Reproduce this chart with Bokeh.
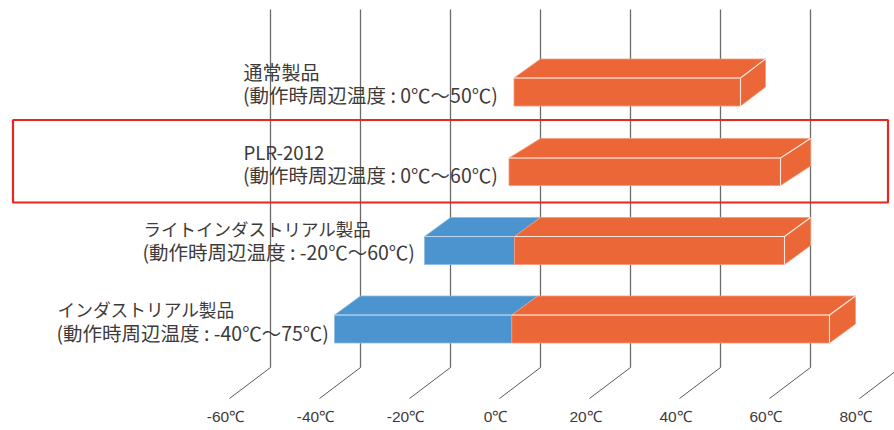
from bokeh.plotting import figure
from bokeh.models import Range1d, ColumnDataSource
from bokeh.core.properties import value
from bokeh.embed import file_html
from bokeh.resources import INLINE

# ---- data ----
products = ["通常製品", "PLR-2012", "ライトインダストリアル製品", "インダストリアル製品"]
ranges = ["(動作時周辺温度 : 0℃〜50℃)", "(動作時周辺温度 : 0℃〜60℃)",
          "(動作時周辺温度 : -20℃〜60℃)", "(動作時周辺温度 : -40℃〜75℃)"]
cold_low = [None, None, -20, -40]
warm_low = [0, 0, 0, -0.6]
warm_high = [50, 60, 60, 70]
tick_values = [-60, -40, -20, 0, 20, 40, 60, 80]
tick_labels = ["-60℃", "-40℃", "-20℃", "0℃", "20℃", "40℃", "60℃", "80℃"]

# ---- layout (page pixels) ----
PX = 4.5            # pixels per degree
ZERO = 540          # page x of 0 degrees on the back plane
W, H = 894, 430
ORANGE, BLUE = "#EC6737", "#4C94D0"
EDGE_O, EDGE_B = "#F49A78", "#8DBBE2"
GRID, TEXT = "#6F6B69", "#3E3A39"
row_back_top = [58.5, 138, 217, 295.5]
row_front_top = [77.5, 157.5, 236, 314.5]
row_front_bot = [105.5, 185, 264, 342.5]
row_depth_left = [26.5, 31.5, 26, 26]
row_depth_right = [25, 30, 26, 26]
label_x = [243, 243, 143, 57]
label_y1 = [70.5, 150.5, 227.5, 308.5]
label_y2 = [94, 174, 251, 332]
label_size1 = ["19px", "18.6px", "17.5px", "17.7px"]


def dx(px):
    return px / PX


p = figure(width=W, height=H, output_backend="svg", toolbar_location=None,
           x_range=Range1d(dx(-ZERO), dx(W - ZERO)), y_range=Range1d(H, 0),
           min_border=0, outline_line_color=None, background_fill_color="white")
p.axis.visible = False
p.grid.visible = False

# grid: back-plane verticals and the floor diagonals
GRID_TOP, GRID_BOT, FLOOR = 9, 367, 398
FLOOR_DX = dx(41)
p.segment(tick_values, GRID_TOP, tick_values, GRID_BOT, line_color=GRID, line_width=1.3)
p.segment(tick_values, GRID_BOT, [t - FLOOR_DX for t in tick_values], FLOOR,
          line_color="#4A4644", line_width=0.9)
p.text([t - dx(45) for t in tick_values], [416] * len(tick_values), text=tick_labels,
       text_font=value("Liberation Sans"), text_font_size="15.5px", text_color=TEXT,
       text_align="center", text_baseline="middle")


def bar(lo, hi, i, color, edge, side):
    dl, dr = dx(row_depth_left[i]), dx(row_depth_right[i])
    bt, ft, fb = row_back_top[i], row_front_top[i], row_front_bot[i]
    xs, ys = [[lo - dl, hi - dr, hi - dr, lo - dl], [lo - dl, lo, hi, hi - dr]], [[ft, ft, fb, fb], [ft, bt, bt, ft]]
    if side:
        drop = fb - ft
        xs.append([hi - dr, hi, hi, hi - dr])
        ys.append([ft, bt, bt + drop, fb])
    p.patches(xs, ys, fill_color=color, line_color=edge, line_width=0.8)
    return lo - dl, hi - dr, ft, fb


for i in range(len(products)):
    if cold_low[i] is not None:
        l, r, ft, fb = bar(cold_low[i], warm_low[i], i, BLUE, EDGE_B, False)
        p.segment([l], [ft], [r], [ft], line_color="#BBD6EE", line_width=1)
    l, r, ft, fb = bar(warm_low[i], warm_high[i], i, ORANGE, EDGE_O, True)
    # bright front edges
    p.multi_line([[l, r, r], [r, warm_high[i]]],
                 [[ft, ft, fb], [ft, row_back_top[i]]],
                 line_color="#FDE6DC", line_width=1.1)

# category labels
src1 = ColumnDataSource(dict(x=[dx(x - ZERO) for x in label_x], y=label_y1, t=products, s=label_size1))
p.text("x", "y", text="t", source=src1, text_font=value("Noto Sans CJK JP"), text_font_size="s",
       text_color=TEXT, text_align="left", text_baseline="middle")
p.text([dx(x - 0.5 - ZERO) if x == 243 else dx(x - 1 - ZERO) for x in label_x], label_y2, text=ranges,
       text_font=value("Noto Sans CJK JP"), text_font_size="19.5px", text_color=TEXT,
       text_align="left", text_baseline="middle")

# highlight frame around PLR-2012
p.quad(left=[dx(12.5 - ZERO)], right=[dx(887.5 - ZERO)], top=[119.5], bottom=[202],
       fill_color=None, line_color="#E8251F", line_width=2.2)

open("out.html", "w").write(file_html(p, INLINE))
